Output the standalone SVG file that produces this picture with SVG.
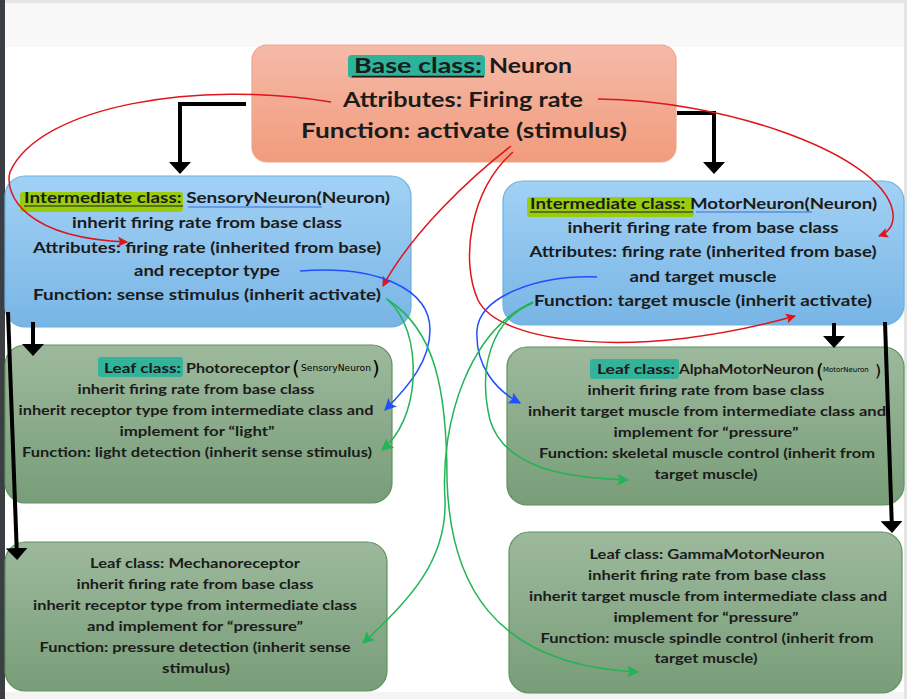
<svg xmlns="http://www.w3.org/2000/svg" width="907" height="699" viewBox="0 0 907 699">
<defs>
<linearGradient id="gSal" x1="0" y1="0" x2="0" y2="1"><stop offset="0" stop-color="#f5bba8"/><stop offset="1" stop-color="#f19b7d"/></linearGradient>
<linearGradient id="gBlue" x1="0" y1="0" x2="0" y2="1"><stop offset="0" stop-color="#a2d1f5"/><stop offset="1" stop-color="#78b5e5"/></linearGradient>
<linearGradient id="gGreen" x1="0" y1="0" x2="0" y2="1"><stop offset="0" stop-color="#9db99d"/><stop offset="1" stop-color="#789d78"/></linearGradient>
<marker id="mBlack" viewBox="0 0 12 22" refX="9" refY="11" markerWidth="12" markerHeight="22" markerUnits="userSpaceOnUse" orient="auto"><path d="M0,0 L12,11 L0,22 z" fill="#000"/></marker>
<marker id="mRed" viewBox="0 0 10 10" refX="9" refY="5" markerWidth="11" markerHeight="10" markerUnits="userSpaceOnUse" orient="auto"><path d="M0,0 L10,5 L0,10 L2,5 z" fill="#e0141a"/></marker>
<marker id="mBlue" viewBox="0 0 10 10" refX="9" refY="5" markerWidth="13" markerHeight="12" markerUnits="userSpaceOnUse" orient="auto"><path d="M0,0 L10,5 L0,10 L2,5 z" fill="#1f4fff"/></marker>
<marker id="mGreen" viewBox="0 0 10 10" refX="9" refY="5" markerWidth="13" markerHeight="12" markerUnits="userSpaceOnUse" orient="auto"><path d="M0,0 L10,5 L0,10 L2,5 z" fill="#22b455"/></marker>
</defs>
<style>
text{font-family:Lato,"Liberation Sans",sans-serif;font-weight:bold;fill:#1b1b1b}
.t21{font-size:21px}
.t15{font-size:15px}
.t14{font-size:14px}
.c{text-anchor:middle}
.hand{font-family:"DejaVu Sans",sans-serif;font-weight:normal;font-size:9px;fill:#000}
.par{font-family:"DejaVu Sans",sans-serif;font-weight:normal;font-size:20px;fill:#000}
.sal{fill:url(#gSal);stroke:#eca58d;stroke-width:1.2}
.blue{fill:url(#gBlue);stroke:#6cb2e0;stroke-width:1.2}
.green{fill:url(#gGreen);stroke:#5e925e;stroke-width:1.2}
.blk{fill:none;stroke:#000;stroke-width:4;marker-end:url(#mBlack)}
.red{fill:none;stroke:#e0141a;stroke-width:1.5;marker-end:url(#mRed)}
.bl{fill:none;stroke:#1f4fff;stroke-width:1.5;marker-end:url(#mBlue)}
.gr{fill:none;stroke:#22b455;stroke-width:1.5;marker-end:url(#mGreen)}
</style>
<rect x="0" y="0" width="907" height="699" fill="#ffffff"/>
<rect x="0" y="0" width="907" height="47" fill="#f8f8f8"/>
<rect x="0" y="0" width="907" height="3" fill="#e6e6e6"/>
<rect x="0" y="692" width="907" height="7" fill="#f4f4f4"/>
<rect x="904" y="0" width="3" height="699" fill="#e4e4e4"/>
<rect x="0" y="0" width="5" height="699" fill="#3b3e42"/>

<g id="base">
<rect class="sal" x="252" y="45" width="424" height="117" rx="15"/>
<rect x="348" y="55" width="137" height="23" rx="4" fill="#2eb39b"/>
<line x1="352" y1="76.5" x2="484" y2="76.5" stroke="#1b1b1b" stroke-width="1.3"/>
<text class="t21" x="354" y="73" textLength="128" lengthAdjust="spacingAndGlyphs">Base class:</text>
<text class="t21" x="489" y="73" textLength="83" lengthAdjust="spacingAndGlyphs">Neuron</text>
<text class="t21" x="343" y="107" textLength="240" lengthAdjust="spacingAndGlyphs">Attributes: Firing rate</text>
<text class="t21" x="301" y="138" textLength="326" lengthAdjust="spacingAndGlyphs">Function: activate (stimulus)</text>
</g>

<g id="sensory">
<rect class="blue" x="5" y="176" width="406" height="151" rx="20"/>
<rect x="20" y="192" width="163" height="20" rx="3" fill="#9acc0e"/>
<line x1="24" y1="206" x2="183" y2="206" stroke="#1b1b1b" stroke-width="1.2"/>
<line x1="188" y1="207" x2="322" y2="207" stroke="#3b6fd8" stroke-width="1.2"/>
<text class="t15" x="24" y="203" textLength="366" lengthAdjust="spacingAndGlyphs">Intermediate class: SensoryNeuron(Neuron)</text>
<text class="t15 c" x="207" y="228" textLength="270" lengthAdjust="spacingAndGlyphs">inherit firing rate from base class</text>
<text class="t15 c" x="207" y="253" textLength="348" lengthAdjust="spacingAndGlyphs">Attributes: firing rate (inherited from base)</text>
<text class="t15 c" x="207" y="276" textLength="146" lengthAdjust="spacingAndGlyphs">and receptor type</text>
<text class="t15 c" x="207" y="300" textLength="348" lengthAdjust="spacingAndGlyphs">Function: sense stimulus (inherit activate)</text>
</g>

<g id="motor">
<rect class="blue" x="503" y="181" width="401" height="144" rx="20"/>
<rect x="527" y="197" width="167" height="20" rx="3" fill="#9acc0e"/>
<line x1="530" y1="212" x2="693" y2="212" stroke="#1b1b1b" stroke-width="1.2"/>
<line x1="696" y1="212" x2="812" y2="212" stroke="#3b6fd8" stroke-width="1.2"/>
<text class="t15" x="530" y="209" textLength="347" lengthAdjust="spacingAndGlyphs">Intermediate class: MotorNeuron(Neuron)</text>
<text class="t15 c" x="703" y="233" textLength="271" lengthAdjust="spacingAndGlyphs">inherit firing rate from base class</text>
<text class="t15 c" x="703" y="257" textLength="347" lengthAdjust="spacingAndGlyphs">Attributes: firing rate (inherited from base)</text>
<text class="t15 c" x="703" y="282" textLength="147" lengthAdjust="spacingAndGlyphs">and target muscle</text>
<text class="t15 c" x="703" y="306" textLength="338" lengthAdjust="spacingAndGlyphs">Function: target muscle  (inherit activate)</text>
</g>

<g id="photoreceptor">
<rect class="green" x="5" y="345" width="387" height="158" rx="20"/>
<rect x="98" y="357" width="85" height="20" rx="3" fill="#33b39a"/>
<text class="t14" x="104" y="373" textLength="77" lengthAdjust="spacingAndGlyphs">Leaf class:</text>
<text class="t14" x="186" y="373" textLength="104" lengthAdjust="spacingAndGlyphs">Photoreceptor</text>
<text class="par" x="292" y="375">(</text>
<text class="hand" x="301" y="371" textLength="70" lengthAdjust="spacingAndGlyphs">SensoryNeuron</text>
<text class="par" x="372" y="375">)</text>
<text class="t14 c" x="196" y="394" textLength="237" lengthAdjust="spacingAndGlyphs">inherit firing rate from base class</text>
<text class="t14 c" x="196" y="415" textLength="355" lengthAdjust="spacingAndGlyphs">inherit receptor type from intermediate class and</text>
<text class="t14 c" x="197" y="436" textLength="155" lengthAdjust="spacingAndGlyphs">implement for “light”</text>
<text class="t14 c" x="197" y="457" textLength="350" lengthAdjust="spacingAndGlyphs">Function: light detection (inherit sense stimulus)</text>
</g>

<g id="alpha">
<rect class="green" x="507" y="347" width="397" height="158" rx="20"/>
<rect x="590" y="359" width="89" height="20" rx="3" fill="#33b39a"/>
<text class="t14" x="597" y="374" textLength="78" lengthAdjust="spacingAndGlyphs">Leaf class:</text>
<text class="t14" x="679" y="374" textLength="135" lengthAdjust="spacingAndGlyphs">AlphaMotorNeuron</text>
<text class="par" x="816" y="378">(</text>
<text class="hand" x="823" y="372" style="font-size:7px">MotorNeuron</text>
<text class="par" x="875" y="376" style="font-size:16px">)</text>
<text class="t14 c" x="706" y="395" textLength="237" lengthAdjust="spacingAndGlyphs">inherit firing rate from base class</text>
<text class="t14 c" x="707" y="416" textLength="358" lengthAdjust="spacingAndGlyphs">inherit target muscle from intermediate class and</text>
<text class="t14 c" x="706" y="437" textLength="185" lengthAdjust="spacingAndGlyphs">implement for “pressure”</text>
<text class="t14 c" x="707" y="458" textLength="336" lengthAdjust="spacingAndGlyphs">Function: skeletal muscle control (inherit from</text>
<text class="t14 c" x="706" y="479" textLength="103" lengthAdjust="spacingAndGlyphs">target muscle)</text>
</g>

<g id="mechanoreceptor">
<rect class="green" x="5" y="542" width="382" height="149" rx="20"/>
<text class="t14 c" x="195" y="568" textLength="210" lengthAdjust="spacingAndGlyphs">Leaf class: Mechanoreceptor</text>
<text class="t14 c" x="195" y="589" textLength="237" lengthAdjust="spacingAndGlyphs">inherit firing rate from base class</text>
<text class="t14 c" x="195" y="610" textLength="324" lengthAdjust="spacingAndGlyphs">inherit receptor type from intermediate class</text>
<text class="t14 c" x="195" y="631" textLength="216" lengthAdjust="spacingAndGlyphs">and implement for “pressure”</text>
<text class="t14 c" x="195" y="652" textLength="311" lengthAdjust="spacingAndGlyphs">Function: pressure detection (inherit sense</text>
<text class="t14 c" x="196" y="673" textLength="68" lengthAdjust="spacingAndGlyphs">stimulus)</text>
</g>

<g id="gamma">
<rect class="green" x="509" y="532" width="393" height="161" rx="20"/>
<text class="t14 c" x="707" y="559" textLength="235" lengthAdjust="spacingAndGlyphs">Leaf class: GammaMotorNeuron</text>
<text class="t14 c" x="707" y="580" textLength="238" lengthAdjust="spacingAndGlyphs">inherit firing rate from base class</text>
<text class="t14 c" x="708" y="601" textLength="358" lengthAdjust="spacingAndGlyphs">inherit target muscle from intermediate class and</text>
<text class="t14 c" x="706" y="622" textLength="185" lengthAdjust="spacingAndGlyphs">implement for “pressure”</text>
<text class="t14 c" x="707" y="643" textLength="333" lengthAdjust="spacingAndGlyphs">Function: muscle spindle control (inherit from</text>
<text class="t14 c" x="706" y="663" textLength="103" lengthAdjust="spacingAndGlyphs">target muscle)</text>
</g>

<g id="connectors">
<path class="blk" d="M246,104 H180 V171"/>
<path class="blk" d="M677,113 H714 V171"/>
<path class="blk" d="M33,322 V353"/>
<path class="blk" d="M8,312 L17,557"/>
<path class="blk" d="M834,323 V345"/>
<path class="blk" d="M885,322 L892,530"/>
<path class="red" d="M331,102 C 200,80 40,105 10,172 C 4,195 25,238 127,242"/>
<path class="red" d="M598,99 C 720,100 870,150 891,205 C 897,222 890,232 879,236"/>
<path class="red" d="M511,146 C 470,178 412,232 383,286"/>
<path class="red" d="M513,152 C 470,190 460,260 478,300 C 500,345 640,360 795,316"/>
<path class="bl" d="M300,271 C 380,265 430,290 430,330 C 430,360 410,385 385,410"/>
<path class="bl" d="M597,277 C 540,275 480,295 477,330 C 475,365 495,390 520,403"/>
<path class="gr" d="M386,298 C 405,315 415,340 413,380 C 411,410 400,435 382,450"/>
<path class="gr" d="M388,300 C 435,330 447,390 447,480 C 450,580 490,665 638,672"/>
<path class="gr" d="M533,302 C 470,330 440,420 445,500 C 447,560 410,600 363,643"/>
<path class="gr" d="M533,303 C 490,320 478,370 490,420 C 505,470 570,478 628,480"/>
</g>
</svg>
